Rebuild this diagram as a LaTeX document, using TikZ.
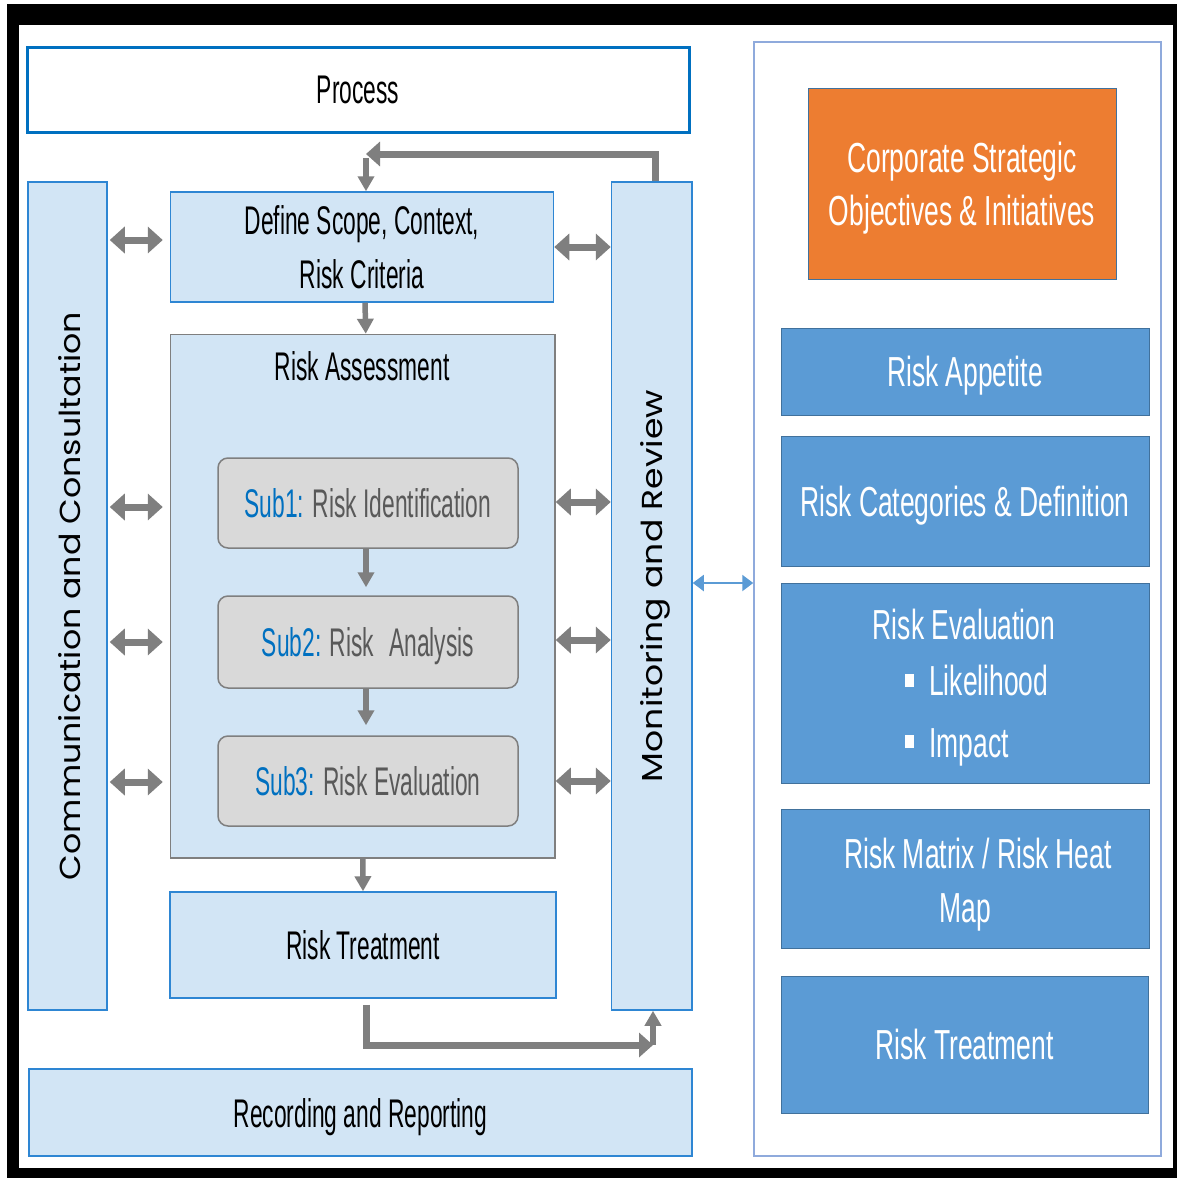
\documentclass[tikz,border=0pt]{standalone}
\usepackage{fontspec}
\usepackage{graphicx}
\setmainfont{Liberation Sans}
\newfontfamily\condL[FakeStretch=0.57]{Liberation Sans}
\newfontfamily\condR[FakeStretch=0.63]{Liberation Sans}
\newfontfamily\geo{Poppins}
\usetikzlibrary{arrows.meta}
\definecolor{lblue}{HTML}{D2E5F5}
\definecolor{bborder}{HTML}{2E86D3}
\definecolor{pborder}{HTML}{0070C0}
\definecolor{agray}{HTML}{7F7F7F}
\definecolor{subgray}{HTML}{D9D9D9}
\definecolor{subtxt}{HTML}{595959}
\definecolor{orng}{HTML}{ED7D31}
\definecolor{mblue}{HTML}{5B9BD5}
\definecolor{dborder}{HTML}{41719C}
\definecolor{panelb}{HTML}{8FAADC}
\begin{document}
\begin{tikzpicture}[x=1pt,y=-1pt,
  lbox/.style={draw=bborder,line width=1.5pt,fill=lblue,inner sep=0pt,text depth=0pt,font=\condL\fontsize{40}{54}\selectfont,align=center},
  subbox/.style={draw=agray,line width=1.5pt,fill=subgray,rounded corners=10pt,inner sep=0pt,text depth=0pt,font=\condL\fontsize{40}{54}\selectfont,minimum width=300pt},
  rbox/.style={draw=dborder,line width=1pt,fill=mblue,inner sep=0pt,text depth=0pt,text=white,font=\condR\fontsize{42}{53}\selectfont,align=center,minimum width=368pt},
  rtxt/.style={text=white,font=\condR\fontsize{42}{53}\selectfont,inner sep=0pt},
  ltxt/.style={font=\condL\fontsize{40}{54}\selectfont,inner sep=0pt},
  vtxt/.style={rotate=90,anchor=base,inner sep=0pt},
  bullet/.style={fill=white,minimum width=9pt,minimum height=13pt,inner sep=0pt},
  dbl/.style={draw=agray,line width=7pt,{Triangle[length=15pt,width=26pt]}-{Triangle[length=15pt,width=26pt]}},
  dn/.style={draw=agray,line width=5.5pt,-{Triangle[length=15pt,width=16pt]}},
  fb/.style={draw=agray,line width=7pt,-{Triangle[length=14pt,width=24pt]}},
  bluearr/.style={draw=mblue,line width=2pt,{Triangle[length=11pt,width=16pt]}-{Triangle[length=11pt,width=16pt]}},
]
\useasboundingbox (0,0) rectangle (1177,1178);
\fill[white] (0,0) rectangle (1177,1178);
\fill[black] (7,4) rectangle (1177,1178);
\fill[white] (19,25) rectangle (1173,1168);

% left process column
\node[draw=pborder,line width=3pt,fill=white,minimum width=662pt,minimum height=85pt,inner sep=0pt,text depth=0pt,ltxt] (process) at (358,89.5) {Process};
\node[lbox,minimum width=79pt,minimum height=828pt] (comm) at (67.5,596) {};
\node[vtxt] (commt) at (80,596) {\resizebox{568pt}{22pt}{\geo Communication and Consultation}};
\node[lbox,minimum width=383pt,minimum height=110pt] (define) at (362,247) {Define Scope, Context,\\Risk Criteria};
\node[lbox,draw=agray,minimum width=384.5pt,minimum height=523.5pt] (ra) at (362.75,596.25) {};
\node[ltxt,anchor=base] (rat) at (362,380) {Risk Assessment};
\node[subbox,minimum height=90pt] (sub1) at (368,503) {\textcolor{pborder}{Sub1:} \textcolor{subtxt}{Risk Identification}};
\node[subbox,minimum height=92pt] (sub2) at (368,642) {\textcolor{pborder}{Sub2:} \textcolor{subtxt}{Risk\hspace{15pt}Analysis}};
\node[subbox,minimum height=90pt] (sub3) at (368,781) {\textcolor{pborder}{Sub3:} \textcolor{subtxt}{Risk Evaluation}};
\node[lbox,minimum width=386pt,minimum height=106pt] (rt) at (363,945) {Risk Treatment};
\node[lbox,minimum width=80.5pt,minimum height=828pt] (mon) at (651.75,596) {};
\node[vtxt] (mont) at (662,586) {\resizebox{392pt}{22pt}{\geo Monitoring and Review}};
\node[lbox,minimum width=663pt,minimum height=87pt] (rec) at (360.5,1112.5) {Recording and Reporting};

% right panel
\node[draw=panelb,line width=1.5pt,fill=white,minimum width=407pt,minimum height=1114pt,inner sep=0pt] (panel) at (957.5,599) {};
\node[rbox,fill=orng,minimum width=308pt,minimum height=191pt] (corp) at (962,183.5) {Corporate Strategic\\Objectives \& Initiatives};
\node[rbox,minimum height=87pt] (app) at (965,371.5) {Risk Appetite};
\node[rbox,minimum height=130pt] (cat) at (965,501) {Risk Categories \& Definition};
\node[rbox,minimum height=200pt] (eval) at (965,683) {};
\node[rtxt,anchor=base] (evt) at (964,639) {Risk Evaluation};
\node[bullet] (bul1) at (909,680) {};
\node[rtxt,anchor=base west] (evl) at (929,695) {Likelihood};
\node[bullet] (bul2) at (909,741.5) {};
\node[rtxt,anchor=base west] (evi) at (929,757) {Impact};
\node[rbox,minimum height=139pt] (mat) at (965,878.5) {};
\node[rtxt,anchor=base] (matt1) at (978,868) {Risk Matrix / Risk Heat};
\node[rtxt,anchor=base] (matt2) at (965,922) {Map};
\node[rbox,minimum width=367pt,minimum height=137pt] (trt) at (964.5,1044.5) {Risk Treatment};

% double arrows, left side
\draw[dbl] ([xshift=2pt]comm.east |- 0,240) -- ([xshift=-7pt]define.west |- 0,240);
\draw[dbl] ([xshift=2pt]comm.east |- 0,507) -- ([xshift=-7pt]ra.west |- 0,507);
\draw[dbl] ([xshift=2pt]comm.east |- 0,642) -- ([xshift=-7pt]ra.west |- 0,642);
\draw[dbl] ([xshift=2pt]comm.east |- 0,782) -- ([xshift=-7pt]ra.west |- 0,782);
% double arrows, right side
\draw[dbl] (define.east |- 0,247) -- (mon.west |- 0,247);
\draw[dbl] (ra.east |- 0,502) -- (mon.west |- 0,502);
\draw[dbl] (ra.east |- 0,640) -- (mon.west |- 0,640);
\draw[dbl] (ra.east |- 0,781) -- (mon.west |- 0,781);

% down arrows
\draw[dn] ([xshift=3pt]define.south) -- ([xshift=3pt]ra.north);
\draw[dn] ([xshift=-2pt]sub1.south) -- ([xshift=-2pt,yshift=8pt]sub2.north);
\draw[dn] ([xshift=-2pt]sub2.south) -- ([xshift=-2pt,yshift=10pt]sub3.north);
\draw[dn] (ra.south) -- (rt.north);

% feedback loop top
\coordinate (fbk) at (366,154);
\draw[fb] ([xshift=4pt]mon.north) |- (fbk);
\draw[dn] ([yshift=-4pt]fbk) -- (fbk |- define.north);

% feedback loop bottom
\coordinate (fb2) at (653,1045);
\draw[fb] ([xshift=3pt,yshift=-6pt]rt.south) |- (fb2);
\draw[dn] (fb2) -- (fb2 |- mon.south);

% link to right panel
\draw[bluearr] (mon.east |- 0,583) -- (panel.west |- 0,583);
\end{tikzpicture}
\end{document}
